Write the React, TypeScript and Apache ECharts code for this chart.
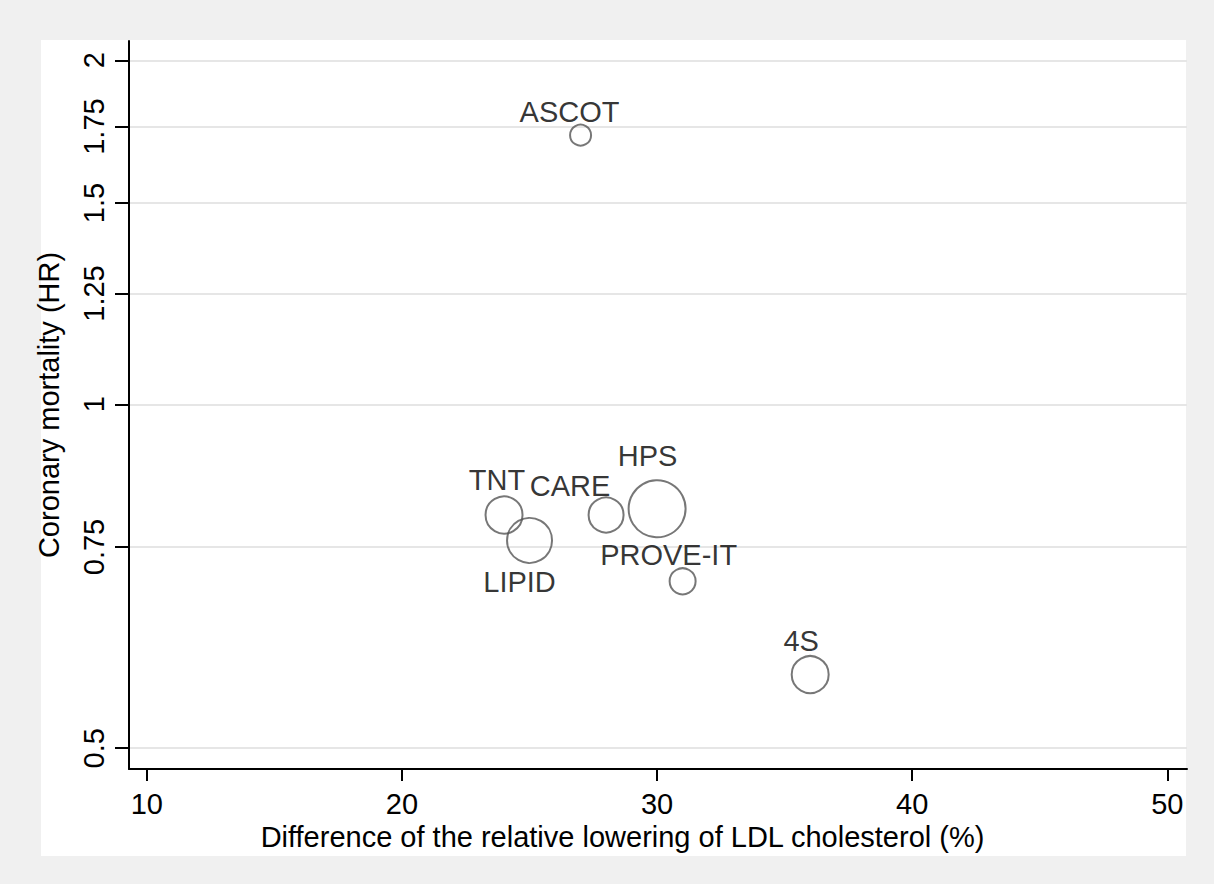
import React, { useEffect, useRef } from "react";
import * as echarts from "echarts";

// ---- data ----
const studies = ["ASCOT", "TNT", "LIPID", "CARE", "HPS", "PROVE-IT", "4S"];
const ldlLoweringDiff = [27, 24, 25, 28, 30, 31, 36];
const hazardRatio = [1.72, 0.8, 0.76, 0.8, 0.81, 0.7, 0.58];
const studyWeight = [21, 37, 45, 35, 57, 26, 37];
const xTicks = [10, 20, 30, 40, 50];
const yTicks = [0.5, 0.75, 1, 1.25, 1.5, 1.75, 2];

// ---- label placement (style only) ----
const labelPlacement: Record<string, { position: string; offset: number[] }> = {
  ASCOT: { position: "top", offset: [-11, 3] },
  TNT: { position: "top", offset: [-7, -1] },
  LIPID: { position: "bottom", offset: [-10, 4] },
  CARE: { position: "top", offset: [-36, 4] },
  HPS: { position: "top", offset: [-9.5, -9] },
  "PROVE-IT": { position: "top", offset: [-14, 2] },
  "4S": { position: "top", offset: [-9, 0] },
};

const FONT = "'Liberation Sans', Arial, Helvetica, sans-serif";
const FS = 29;

export default function App() {
  const ref = useRef<HTMLDivElement>(null);

  useEffect(() => {
    document.body.style.margin = "0";
    const chart = echarts.init(ref.current!, null, { renderer: "svg" });

    const points = studies.map((name, i) => ({
      name,
      value: [ldlLoweringDiff[i], Math.log(hazardRatio[i])],
      symbolSize: studyWeight[i],
      label: {
        show: true,
        formatter: name,
        position: labelPlacement[name].position,
        offset: labelPlacement[name].offset,
        distance: 0,
        color: "#000",
        fontSize: FS,
        fontFamily: FONT,
      },
    }));

    const logTicks = yTicks.map((v) => Math.log(v));

    chart.setOption({
      animation: false,
      textStyle: { fontFamily: FONT },
      grid: { left: 129, right: 27, top: 41, bottom: 115, containLabel: false },
      xAxis: {
        type: "value",
        min: 9.3,
        max: 50.77,
        axisLine: { show: true, onZero: false, lineStyle: { color: "#000", width: 2 } },
        axisTick: {
          show: true,
          customValues: xTicks,
          length: 12,
          lineStyle: { color: "#000", width: 2 },
        },
        axisLabel: {
          customValues: xTicks,
          margin: 20,
          color: "#000",
          fontSize: FS,
          fontFamily: FONT,
        },
        splitLine: { show: false },
        name: "Difference of the relative lowering of LDL cholesterol (%)",
        nameLocation: "middle",
        nameGap: 46,
        nameTextStyle: {
          color: "#000",
          fontSize: FS,
          fontFamily: FONT,
          padding: [0, 71, 0, 0],
        },
      },
      yAxis: {
        type: "value",
        min: -0.735,
        max: 0.732,
        axisLine: { show: true, onZero: false, lineStyle: { color: "#000", width: 2 } },
        axisTick: {
          show: true,
          customValues: logTicks,
          length: 14,
          lineStyle: { color: "#000", width: 2 },
        },
        axisLabel: {
          customValues: logTicks,
          rotate: 90,
          margin: 21,
          color: "#000",
          fontSize: FS,
          fontFamily: FONT,
          formatter: (v: number) => String(Number(Math.exp(v).toFixed(2))),
        },
        splitLine: { show: true, lineStyle: { color: "#e6e6e6", width: 2 } },
        name: "Coronary mortality (HR)",
        nameLocation: "middle",
        nameGap: 66,
        nameTextStyle: { color: "#000", fontSize: FS, fontFamily: FONT },
      },
      series: [
        {
          type: "scatter",
          symbol: "circle",
          data: points,
          itemStyle: { color: "rgba(0,0,0,0)", borderColor: "#555555", borderWidth: 2 },
          emphasis: { disabled: true },
        },
      ],
    });

    return () => chart.dispose();
  }, []);

  return (
    <div style={{ position: "relative", width: 1214, height: 884, background: "#f0f0f0" }}>
      <div
        style={{ position: "absolute", left: 41, top: 40, width: 1145, height: 816, background: "#fff" }}
      />
      <div ref={ref} style={{ position: "absolute", left: 0, top: 0, width: 1214, height: 884 }} />
    </div>
  );
}
